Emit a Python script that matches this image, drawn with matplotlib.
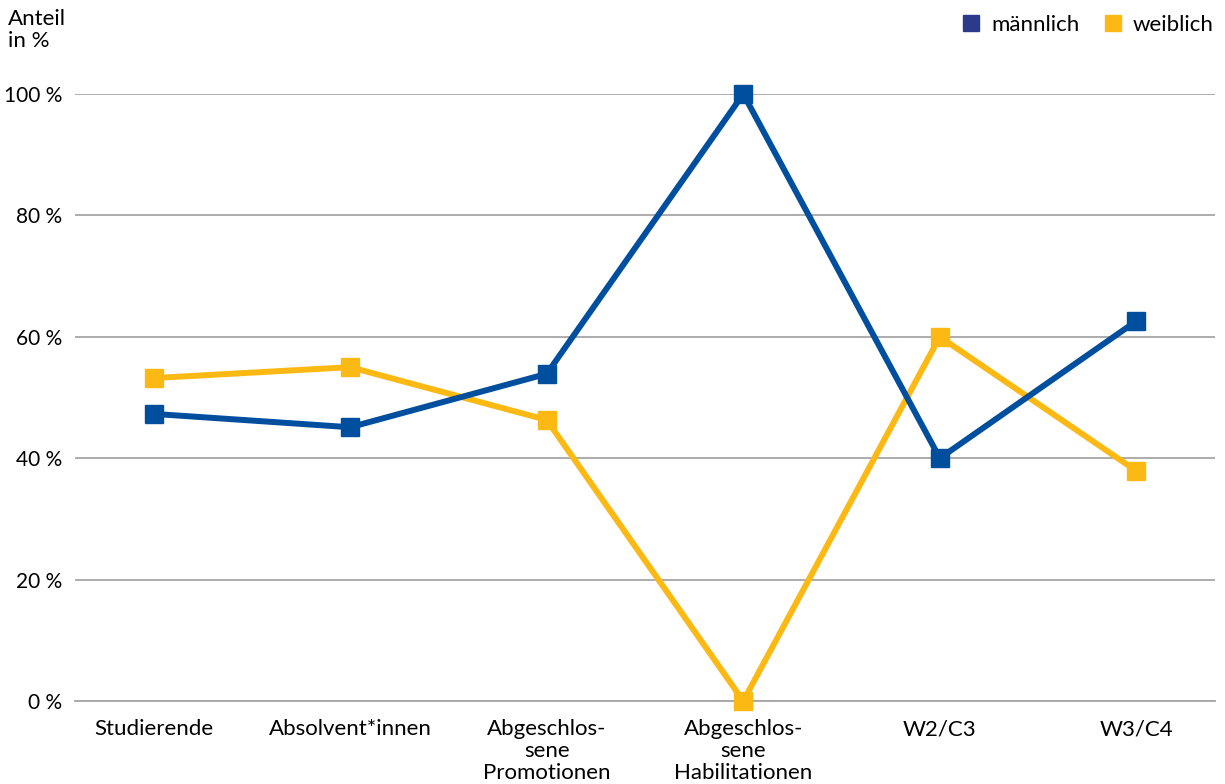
import matplotlib.pyplot as plt
from matplotlib.lines import Line2D

plt.rcParams['font.family'] = ['Lato', 'DejaVu Sans']

# Data
categories = ['Studierende', 'Absolvent*innen', 'Abgeschlos-\nsene\nPromotionen',
              'Abgeschlos-\nsene\nHabilitationen', 'W2/C3', 'W3/C4']
maennlich = [47.3, 45.1, 53.9, 100.0, 40.0, 62.6]
weiblich = [53.2, 55.0, 46.3, 0.0, 60.0, 37.9]
y_ticks = [0, 20, 40, 60, 80, 100]

blue = '#004F9F'
yellow = '#FDB913'
legend_blue = '#2B3A8A'
fs = 16

fig = plt.figure(figsize=(12.25, 7.84), dpi=100)
ax = fig.add_axes([75 / 1225, 1 - 701 / 784, 1140 / 1225, (701 - 94) / 784])

x = list(range(len(categories)))
ax.plot(x, weiblich, color=yellow, lw=4.3, marker='s', ms=13.5, zorder=3)
ax.plot(x, maennlich, color=blue, lw=4.3, marker='s', ms=13.5, zorder=4)

ax.set_xlim(-0.4, 5.4)
ax.set_ylim(0, 100)
ax.set_yticks(y_ticks)
ax.set_yticklabels([f'{v} %' for v in y_ticks])
ax.set_xticks(x)
ax.set_xticklabels(categories, linespacing=1.12)
ax.grid(axis='y', color='#A6A6A6', lw=1.3)
ax.set_axisbelow(True)
for s in ['top', 'right', 'left']:
    ax.spines[s].set_visible(False)
ax.spines['bottom'].set_color('#A6A6A6')
ax.spines['bottom'].set_linewidth(1.3)
ax.tick_params(axis='both', length=0, labelsize=fs, colors='black')
ax.tick_params(axis='y', pad=9, labelsize=15)
ax.tick_params(axis='x', pad=13)
for line in ax.lines:
    line.set_clip_on(False)

fig.text(8 / 1225, 1 - 9 / 784, 'Anteil\nin %', ha='left', va='top', fontsize=fs, linespacing=1.1)

handles = [Line2D([], [], ls='none', marker='s', ms=11, color=legend_blue),
           Line2D([], [], ls='none', marker='s', ms=11, color=yellow)]
fig.legend(handles, ['männlich', 'weiblich'], loc='upper right', bbox_to_anchor=(1.0, 0.995),
           ncol=2, frameon=False, fontsize=fs, handlelength=0.8, handletextpad=0.5,
           columnspacing=1.1, borderaxespad=0.1)

fig.savefig('out.png', dpi=100)
